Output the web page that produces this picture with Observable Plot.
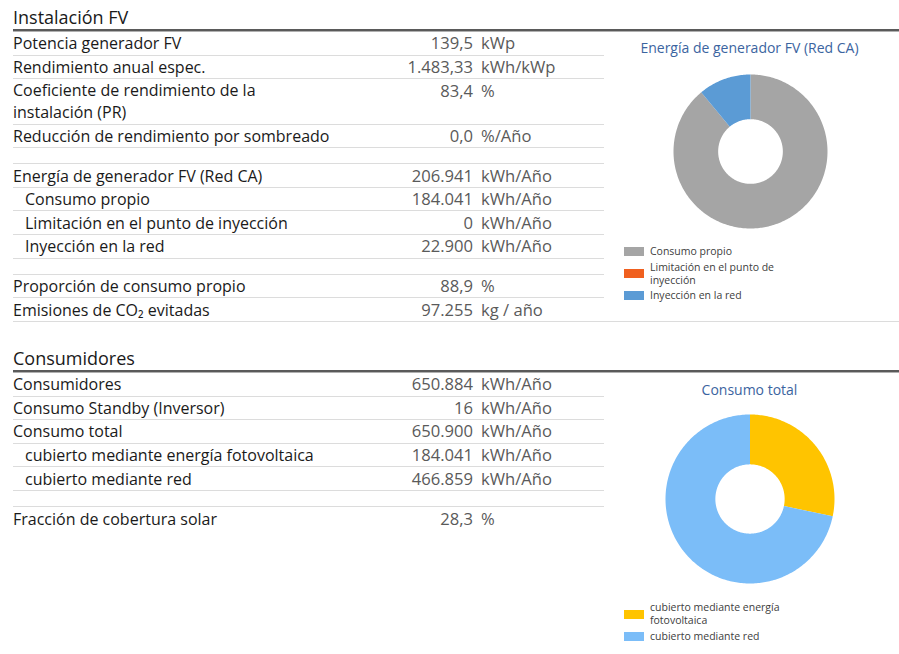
<!DOCTYPE html>
<html><head><meta charset="utf-8">
<script src="https://cdn.jsdelivr.net/npm/d3@7"></script>
<script src="https://cdn.jsdelivr.net/npm/@observablehq/plot@0.6"></script>
<style>
body{margin:0;background:#fff;font-family:"Open Sans",sans-serif;}
#page{position:relative;width:899px;height:654px;overflow:hidden;background:#fff;}
.h{position:absolute;left:13px;font-size:18px;line-height:20px;color:#1a1a1a;}
.rule{position:absolute;left:13px;right:0;height:2px;background:#5a5a5a;border-bottom:1px solid #b0b0b0;}
.tbl{position:absolute;left:13px;width:591px;}
.row{position:relative;box-sizing:border-box;border-bottom:1px solid #dcdcdc;}
.row.last{border-bottom:none;}
.lab{position:absolute;left:0;top:50%;transform:translateY(-50%);white-space:pre;line-height:22px;color:#1a1a1a;font-size:16px;}
.val{position:absolute;right:131px;top:50%;transform:translateY(-50%);white-space:pre;color:#5a5a5a;line-height:22px;font-size:16.6px;}
.unit{position:absolute;left:468px;top:50%;transform:translateY(-50%);white-space:pre;color:#5a5a5a;line-height:22px;font-size:16.6px;}
.row.dbl .val,.row.dbl .unit{top:1px;transform:none;}
.fullline{position:absolute;left:13px;right:0;height:1px;background:#dcdcdc;}
.ctitle{position:absolute;left:600px;width:299px;text-align:center;font-size:14px;color:#3b64a0;line-height:16px;}
.chart{position:absolute;}
.legend{position:absolute;left:624px;width:170px;font-size:10.5px;color:#404040;line-height:13px;}
.li{display:flex;align-items:center;margin-bottom:2.5px;}
.sw{width:20px;height:9px;flex:none;margin-right:6px;}
.lt{width:136px;}
</style>
</head><body>
<div id="page"></div>
<script>
// ---------- DATA ----------
const instLabels = ["Potencia generador FV","Rendimiento anual espec.","Coeficiente de rendimiento de la\ninstalación (PR)","Reducción de rendimiento por sombreado","","Energía de generador FV (Red CA)","Consumo propio","Limitación en el punto de inyección","Inyección en la red","","Proporción de consumo propio","Emisiones de CO₂ evitadas"];
const instValues = [139.5,1483.33,83.4,0.0,null,206941,184041,0,22900,null,88.9,97255];
const instDecimals = [1,2,1,1,null,0,0,0,0,null,1,0];
const instUnits = ["kWp","kWh/kWp","%","%/Año","","kWh/Año","kWh/Año","kWh/Año","kWh/Año","","%","kg / año"];
const instIndent = [0,0,0,0,0,0,1,1,1,0,0,0];

const consLabels = ["Consumidores","Consumo Standby (Inversor)","Consumo total","cubierto mediante energía fotovoltaica","cubierto mediante red","","Fracción de cobertura solar"];
const consValues = [650884,16,650900,184041,466859,null,28.3];
const consDecimals = [0,0,0,0,0,null,1];
const consUnits = ["kWh/Año","kWh/Año","kWh/Año","kWh/Año","kWh/Año","","%"];
const consIndent = [0,0,0,1,1,0,0];

const fvTitle = "Energía de generador FV (Red CA)";
const fvLabels = ["Consumo propio","Limitación en el punto de inyección","Inyección en la red"];
const fvValues = [184041,0,22900];
const fvColors = ["#a5a5a5","#f0601f","#5b9bd5"];

const ctTitle = "Consumo total";
const ctLabels = ["cubierto mediante energía fotovoltaica","cubierto mediante red"];
const ctValues = [184041,466859];
const ctColors = ["#ffc400","#7bbdf8"];

// ---------- LAYOUT ----------
const page = document.getElementById("page");
const loc = d3.formatLocale({decimal:",", thousands:".", grouping:[3], currency:["",""]});
function el(tag, cls, parent, text){const e=document.createElement(tag); if(cls) e.className=cls; if(text!=null) e.textContent=text; parent.appendChild(e); return e;}

function heading(text, top, ruleTop){
  const h = el("div","h",page,text); h.style.top = top+"px";
  const r = el("div","rule",page); r.style.top = ruleTop+"px";
}
function table(top, labels, values, decimals, units, indent){
  const t = el("div","tbl",page); t.style.top = top+"px";
  labels.forEach((lab,i)=>{
    const blank = lab === "";
    const dbl = lab.includes("\n");
    const h = blank ? 16 : (dbl ? 45.5 : 23.6);
    const r = el("div","row"+(dbl?" dbl":"")+(i===labels.length-1 ? " last":""),t);
    r.style.height = h+"px";
    if(!blank){
      const l = el("div","lab",r,lab); l.style.left = (indent[i]*12)+"px";
      if(values[i]!=null){ el("div","val",r,loc.format(",."+decimals[i]+"f")(values[i])); }
      el("div","unit",r,units[i]);
    }
  });
  return t;
}

heading("Instalación FV", 7, 29);
table(32, instLabels, instValues, instDecimals, instUnits, instIndent);
const fl = el("div","fullline",page); fl.style.top = "321px";

heading("Consumidores", 348, 370);
table(373, consLabels, consValues, consDecimals, consUnits, consIndent);

// ---------- DONUTS ----------
function donut(labels, values, colors, r, innerRatio, cx, cy){
  const arcs = d3.pie().sort(null).value(d=>d)(values);
  const features = arcs.filter(a=>a.endAngle>a.startAngle).map(a=>{
    const a0=a.startAngle, a1=a.endAngle;
    const n=Math.max(2,Math.ceil((a1-a0)/(Math.PI/180)));
    const ts=d3.range(n+1).map(k=>a0+(a1-a0)*k/n);
    const outer=ts.map(t=>[Math.sin(t),Math.cos(t)]);
    const inner=ts.slice().reverse().map(t=>[innerRatio*Math.sin(t),innerRatio*Math.cos(t)]);
    return {type:"Feature",properties:{label:labels[a.index]},geometry:{type:"Polygon",coordinates:[[...outer,...inner,outer[0]]]}};
  });
  const size = 2*r+2;
  const proj = d3.geoIdentity().reflectY(true).fitExtent([[1,1],[size-1,size-1]],{type:"MultiPoint",coordinates:[[-1,-1],[1,1]]});
  const svg = Plot.plot({
    width:size, height:size, margin:0,
    projection: proj,
    color:{domain:labels, range:colors},
    style:{background:"transparent", overflow:"visible"},
    marks:[Plot.geo(features,{fill:d=>d.properties.label})]
  });
  const wrap = el("div","chart",page);
  wrap.style.left=(cx-r-1)+"px"; wrap.style.top=(cy-r-1)+"px";
  wrap.appendChild(svg);
}
function legend(labels, colors, top){
  const lg = el("div","legend",page); lg.style.top = top+"px";
  labels.forEach((l,i)=>{
    const it = el("div","li",lg);
    const s = el("div","sw",it); s.style.background = colors[i];
    el("div","lt",it,l);
  });
}
function ctitle(text, top){ const t = el("div","ctitle",page,text); t.style.top = top+"px"; }

ctitle(fvTitle, 40);
donut(fvLabels, fvValues, fvColors, 77, 0.42, 750, 150.5);
legend(fvLabels, fvColors, 245);

ctitle(ctTitle, 382);
donut(ctLabels, ctValues, ctColors, 84.5, 0.41, 749.5, 498.5);
legend(ctLabels, ctColors, 601);
</script>
</body></html>
